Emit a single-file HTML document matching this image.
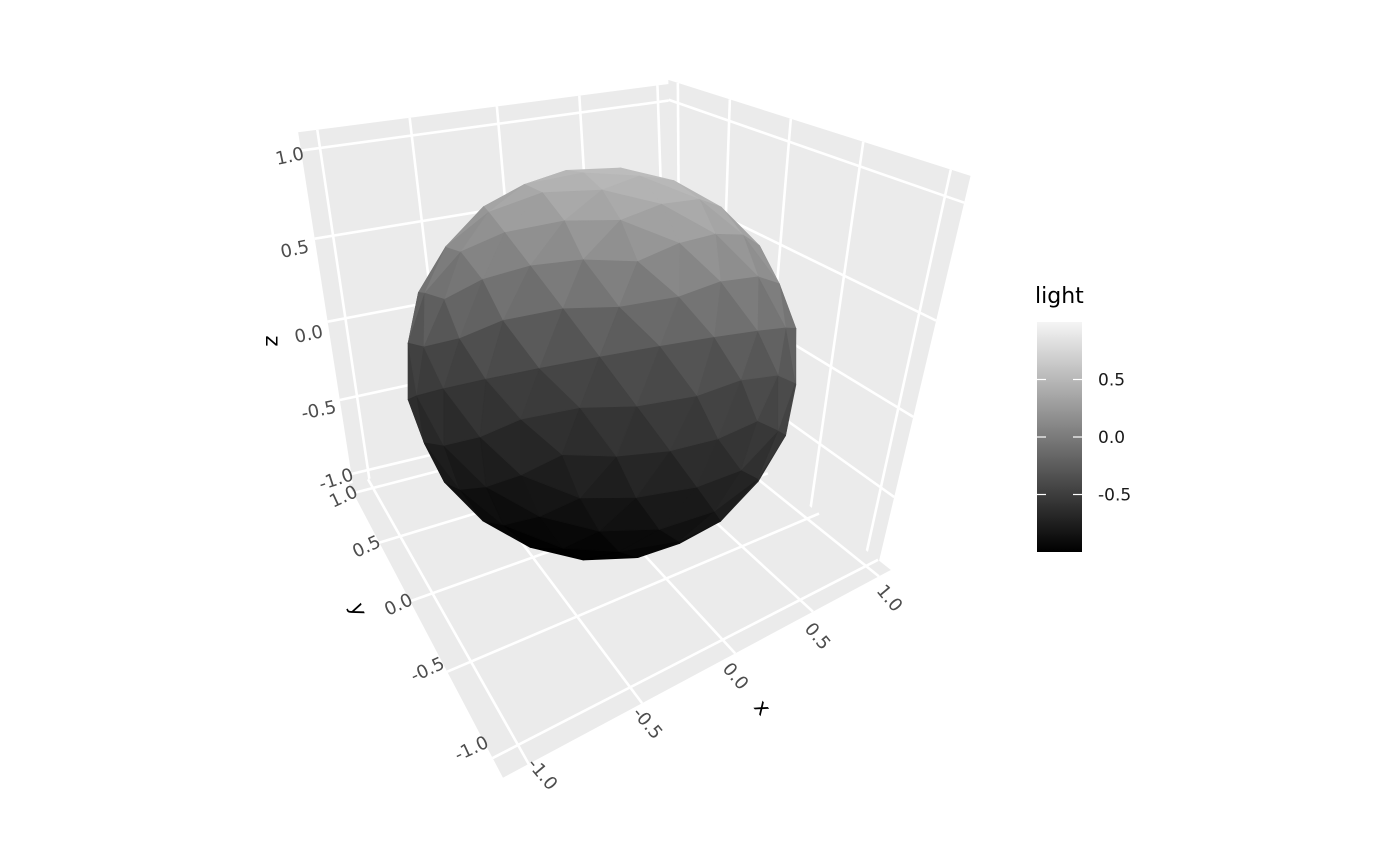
<!DOCTYPE html>
<html><head><meta charset="utf-8"><style>
html,body{margin:0;padding:0;background:#fff;}
svg{display:block;font-family:"DejaVu Sans","Liberation Sans",sans-serif;}
</style></head><body>
<svg id="chart" width="1400" height="866" viewBox="0 0 1400 866" xmlns="http://www.w3.org/2000/svg">
<g id="panels"></g>
<g id="mesh"></g>
<g id="labels">
<g fill="#4d4d4d" font-size="18" text-anchor="middle">
<text transform="translate(291,162) rotate(-12)">1.0</text>
<text transform="translate(296,255) rotate(-12)">0.5</text>
<text transform="translate(310,340) rotate(-12)">0.0</text>
<text transform="translate(320,416) rotate(-12)">-0.5</text>
<text transform="translate(338,485) rotate(-18)">-1.0</text>
</g>
<text font-size="21" fill="#000" transform="translate(266,341) rotate(90)" text-anchor="middle">z</text>
<g fill="#4d4d4d" font-size="18" text-anchor="middle">
<text transform="translate(346,502) rotate(-25)">1.0</text>
<text transform="translate(369,552) rotate(-25)">0.5</text>
<text transform="translate(401,610) rotate(-25)">0.0</text>
<text transform="translate(430,675) rotate(-25)">-0.5</text>
<text transform="translate(474,754) rotate(-25)">-1.0</text>
</g>
<text font-size="21" fill="#000" transform="translate(352,612) rotate(70)" text-anchor="middle">y</text>
<g fill="#4d4d4d" font-size="18" text-anchor="middle">
<text transform="translate(885,602) rotate(50)">1.0</text>
<text transform="translate(813,640) rotate(50)">0.5</text>
<text transform="translate(731,680) rotate(50)">0.0</text>
<text transform="translate(643,727) rotate(50)">-0.5</text>
<text transform="translate(538,778) rotate(50)">-1.0</text>
</g>
<text font-size="21" fill="#000" transform="translate(757,712) rotate(50)" text-anchor="middle">x</text>
</g>
<g id="legend">
<defs><linearGradient id="lg" x1="0" y1="1" x2="0" y2="0">
<stop offset="0" stop-color="#000"/><stop offset="1" stop-color="#f5f5f5"/></linearGradient></defs>
<text x="1035" y="303" font-size="22" fill="#000">light</text>
<rect x="1037" y="322" width="45" height="230" fill="url(#lg)"/>
<g id="legticks"></g>
</g>
</svg>
<script>
const zTicks = [-1, -0.5, 0, 0.5, 1];
const xTicks = [-1, -0.5, 0, 0.5, 1];
const yTicks = [-1, -0.5, 0, 0.5, 1];
const legendTicks = [0.5, 0.0, -0.5];
const legendLabels = ["0.5", "0.0", "-0.5"];
const NS = "http://www.w3.org/2000/svg";

function homog(p0,p1,p2,p3){
  const [x0,y0]=p0,[x1,y1]=p1,[x2,y2]=p2,[x3,y3]=p3;
  const dx1=x1-x2,dx2=x3-x2,dx3=x0-x1+x2-x3,dy1=y1-y2,dy2=y3-y2,dy3=y0-y1+y2-y3;
  const den=dx1*dy2-dx2*dy1;
  const g=(dx3*dy2-dx2*dy3)/den, h=(dx1*dy3-dx3*dy1)/den;
  const a=x1-x0+g*x1,b=x3-x0+h*x3,c=x0,d=y1-y0+g*y1,e=y3-y0+h*y3,f=y0;
  return (p,q)=>{const u=(p+1)/2,v=(q+1)/2;const w=g*u+h*v+1;return [(a*u+b*v+c)/w,(d*u+e*v+f)/w];};
}
const leftWall = homog([368,470],[668,398],[658,102],[320,148]);
const rightWall = homog([680,405],[866,555],[945,196],[678,103]);
const floor = homog([518,745],[866,566],[672,410],[373,488]);

const pg=document.getElementById('panels');
function panel(map,name,pT,qT){
  const E=1.1;
  const pts=[map(-E,-E),map(E,-E),map(E,E),map(-E,E)];
  const poly=document.createElementNS(NS,'polygon');
  poly.setAttribute('points',pts.map(p=>p.join(',')).join(' '));
  poly.setAttribute('fill','#ebebeb');
  
  
  pg.appendChild(poly);
  pT.forEach(t=>{line(map(t,-E),map(t,E),name+'-gridline');});
  qT.forEach(t=>{line(map(-E,t),map(E,t),name+'-gridline');});
  function line(a,b,n){
    const l=document.createElementNS(NS,'line');
    l.setAttribute('x1',a[0]);l.setAttribute('y1',a[1]);l.setAttribute('x2',b[0]);l.setAttribute('y2',b[1]);
    l.setAttribute('stroke','#fff');l.setAttribute('stroke-width','2.6');
    
    
    pg.appendChild(l);
  }
}
panel(leftWall,'back-left-wall',xTicks,zTicks);
panel(rightWall,'back-right-wall',yTicks.map(v=>-v),zTicks);
panel(floor,'floor-panel',xTicks,yTicks.map(v=>-v));

let t=(1+Math.sqrt(5))/2;
let V=[[-1,t,0],[1,t,0],[-1,-t,0],[1,-t,0],[0,-1,t],[0,1,t],[0,-1,-t],[0,1,-t],[t,0,-1],[t,0,1],[-t,0,-1],[-t,0,1]];
let F=[[0,11,5],[0,5,1],[0,1,7],[0,7,10],[0,10,11],[1,5,9],[5,11,4],[11,10,2],[10,7,6],[7,1,8],[3,9,4],[3,4,2],[3,2,6],[3,6,8],[3,8,9],[4,9,5],[2,4,11],[6,2,10],[8,6,7],[9,8,1]];
V=V.map(v=>{const n=Math.hypot(...v);return v.map(c=>c/n);});
for(let s=0;s<2;s++){
  const cache={};const NF=[];
  const mid=(a,b)=>{const k=a<b?a+'_'+b:b+'_'+a;if(cache[k]!==undefined)return cache[k];
    const m=[0,1,2].map(i=>(V[a][i]+V[b][i])/2);const n=Math.hypot(...m);V.push(m.map(c=>c/n));return cache[k]=V.length-1;};
  F.forEach(([a,b,c])=>{const ab=mid(a,b),bc=mid(b,c),ca=mid(c,a);NF.push([a,ab,ca],[b,bc,ab],[c,ca,bc],[ab,bc,ca]);});
  F=NF;
}
const cx=602,cy=364,R=197,el=28*Math.PI/180,az=0.35;
function view(p){
  const x=p[0]*Math.cos(az)-p[1]*Math.sin(az), w=p[0]*Math.sin(az)+p[1]*Math.cos(az), z=p[2];
  const up=z*Math.cos(el)+w*Math.sin(el), depth=z*Math.sin(el)-w*Math.cos(el);
  return [x,up,depth];
}
const mg=document.getElementById('mesh');
const faces=F.map(f=>{
  const vv=f.map(i=>view(V[i]));
  const c=[0,1,2].map(k=>(vv[0][k]+vv[1][k]+vv[2][k])/3);
  const n=Math.hypot(...c);
  return {vv,r:c[0]/n,s:c[1]/n,d:c[2]/n};
}).filter(f=>f.d>-0.05).sort((a,b)=>a.d-b.d);
faces.forEach((f,i)=>{
  let v=f.s>=0?0.31+0.46*f.s:0.31+0.31*f.s;
  v+=0.05*f.r; v=Math.max(0,Math.min(1,v));
  const g=Math.round(v*245);
  const col='rgb('+g+','+g+','+g+')';
  const poly=document.createElementNS(NS,'polygon');
  poly.setAttribute('points',f.vv.map(p=>(cx+R*p[0]).toFixed(1)+','+(cy-R*p[1]).toFixed(1)).join(' '));
  poly.setAttribute('fill',col);poly.setAttribute('stroke',col);poly.setAttribute('stroke-width','0.8');
  
  
  mg.appendChild(poly);
});

const lt=document.getElementById('legticks');
const ly=v=>437-v*115;
legendTicks.forEach((v,i)=>{
  const y=ly(v);
  [[1037,1046],[1073,1082]].forEach(([a,b])=>{
    const l=document.createElementNS(NS,'line');
    l.setAttribute('x1',a);l.setAttribute('x2',b);l.setAttribute('y1',y);l.setAttribute('y2',y);
    l.setAttribute('stroke','#fff');l.setAttribute('stroke-width','1.2');
    
    
    lt.appendChild(l);
  });
  const tx=document.createElementNS(NS,'text');
  tx.setAttribute('x',1098);tx.setAttribute('y',y+6);tx.setAttribute('font-size','17');tx.setAttribute('fill','#1a1a1a');
  tx.textContent=legendLabels[i];
  
  
  lt.appendChild(tx);
});
</script>
</body></html>
